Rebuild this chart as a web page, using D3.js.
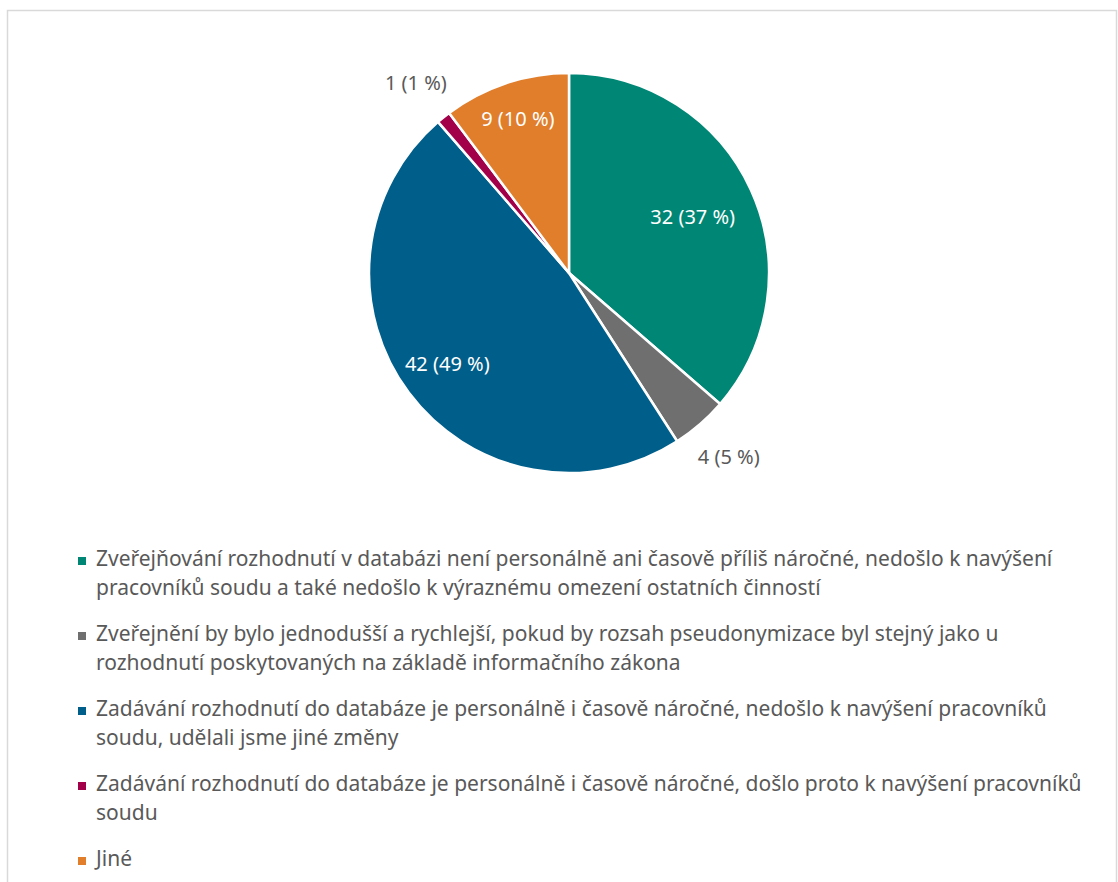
<!DOCTYPE html>
<html>
<head>
<meta charset="utf-8">
<script src="https://cdn.jsdelivr.net/npm/d3@7"></script>
<style>
  html, body { margin: 0; padding: 0; background: #fff; }
  svg { display: block; font-family: "Noto Sans", "Open Sans", sans-serif; }
</style>
</head>
<body>
<svg id="chart" width="1118" height="882"></svg>
<script>
// answers, counts and the labels printed on the slices
const categories = [
  ["Zveřejňování rozhodnutí v databázi není personálně ani časově příliš náročné, nedošlo k navýšení",
   "pracovníků soudu a také nedošlo k výraznému omezení ostatních činností"],
  ["Zveřejnění by bylo jednodušší a rychlejší, pokud by rozsah pseudonymizace byl stejný jako u",
   "rozhodnutí poskytovaných na základě informačního zákona"],
  ["Zadávání rozhodnutí do databáze je personálně i časově náročné, nedošlo k navýšení pracovníků",
   "soudu, udělali jsme jiné změny"],
  ["Zadávání rozhodnutí do databáze je personálně i časově náročné, došlo proto k navýšení pracovníků",
   "soudu"],
  ["Jiné"]
];
const values = [32, 4, 42, 1, 9];
const valueLabels = ["32 (37 %)", "4 (5 %)", "42 (49 %)", "1 (1 %)", "9 (10 %)"];
const colors = ["#008675", "#6f6f6f", "#005e8a", "#a3004a", "#e07e2c"];

const svg = d3.select('#chart');
const textColor = '#595959';

// frame (only top, left and right edges are visible in the crop)
svg.append('path')
    .attr('d', 'M7.5,882V10.5H1116.5V882')
    .attr('fill', 'none')
    .attr('stroke', '#d9d9d9')
    .attr('stroke-width', 1.5);

const cx = 569, cy = 273, radius = 200;
const inside = [true, false, true, false, true];
const labelRadius = [0.68, 1.22, 0.76, 1.22, 0.81];

const pie = d3.pie().sort(null).value(d => d);
const arcs = pie(values);
const arc = d3.arc().innerRadius(0).outerRadius(radius);

const g = svg.append('g').attr('transform', `translate(${cx},${cy})`);

g.selectAll('path.slice')
    .data(arcs)
    .enter()
    .append('path')
    .classed('slice', true)
    .attr('d', arc)
    .attr('fill', (d, i) => colors[i])
    .attr('stroke', '#fff')
    .attr('stroke-width', 2.5)
    .attr('stroke-linejoin', 'round');

g.selectAll('text.value')
    .data(arcs)
    .enter()
    .append('text')
    .classed('value', true)
    .attr('transform', (d, i) => {
        const r = radius * labelRadius[i];
        const [x, y] = d3.arc().innerRadius(r).outerRadius(r).centroid(d);
        return `translate(${x},${y})`;
    })
    .attr('text-anchor', 'middle')
    .attr('dy', '0.35em')
    .attr('font-size', 20)
    .attr('fill', (d, i) => inside[i] ? '#fff' : textColor)
    .text((d, i) => valueLabels[i]);

// legend
const legendX = 78, textX = 96, firstBase = 566, itemStep = 75, lineStep = 29;
const legend = svg.append('g').classed('legend', true);

const items = legend.selectAll('g.item')
    .data(categories)
    .enter()
    .append('g')
    .classed('item', true)
    .attr('transform', (d, i) => `translate(0,${firstBase + i * itemStep})`);

items.append('rect')
    .attr('x', legendX)
    .attr('y', -9)
    .attr('width', 8)
    .attr('height', 8)
    .attr('fill', (d, i) => colors[i]);

items.append('text')
    .attr('x', textX)
    .attr('font-size', 21)
    .attr('fill', textColor)
    .selectAll('tspan')
    .data(d => d)
    .enter()
    .append('tspan')
    .attr('x', textX)
    .attr('y', (d, j) => j * lineStep)
    .text(d => d);
</script>
</body>
</html>
